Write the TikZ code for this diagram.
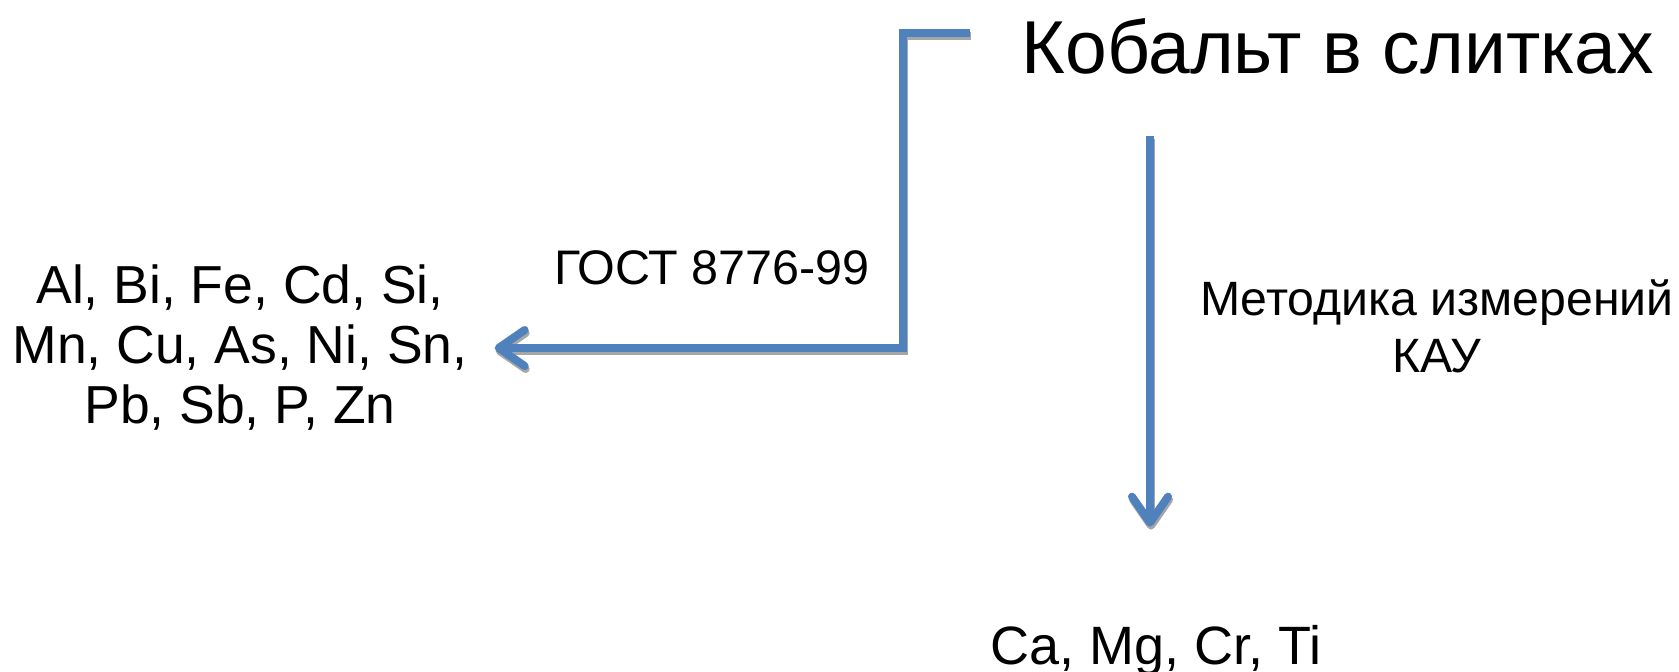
\documentclass[tikz,border=0pt]{standalone}
\usepackage{fontspec}
\setmainfont{Liberation Sans}
\usepackage{xcolor}
\usepackage{tikz}
\usetikzlibrary{arrows.meta, positioning, calc}

\definecolor{flowblue}{RGB}{79,129,189}

\begin{document}
\begin{tikzpicture}[
    x=1pt, y=-1pt,
    label/.style={inner sep=0pt, align=center},
    flow/.style={line width=8pt, line join=miter,
        -{Straight Barb[length=26pt, width=36pt, round]}},
]
    \useasboundingbox (0,0) rectangle (1679,672);

    \node[label, anchor=base, font=\fontsize{75}{86}\selectfont] (cobalt) at (1338,73) {Кобальт в слитках};
    \node[label, font=\fontsize{53.5}{60}\selectfont] (metals) at (240,348) {Al, Bi, Fe, Cd, Si,\\Mn, Cu, As, Ni, Sn,\\Pb, Sb, P, Zn};
    \node[label, anchor=base, font=\fontsize{48.5}{54}\selectfont] (gost) at (712,284) {ГОСТ 8776-99};
    \node[label, font=\fontsize{48.2}{57}\selectfont] (kau) at (1437,326) {Методика измерений\\КАУ};
    \node[label, anchor=base, font=\fontsize{54}{60}\selectfont] (calcium) at (1156,664) {Ca, Mg, Cr, Ti};

    \coordinate (gost top) at (970,33);
    \coordinate (kau top) at (1150,136);

    % shadow first, then the blue arrows
    \foreach \col/\dx/\dy in {black!35/1pt/3pt, flowblue/0pt/0pt} {
        \draw[flow, draw=\col, transform canvas={shift={(\dx,-\dy)}}, shorten >=27pt]
            (gost top) -- ++(-67,0) |- (metals.east);
        \draw[flow, draw=\col, transform canvas={shift={(\dx,-\dy)}}, shorten >=98pt]
            (kau top) -- (kau top |- calcium.north);
    }
\end{tikzpicture}
\end{document}
